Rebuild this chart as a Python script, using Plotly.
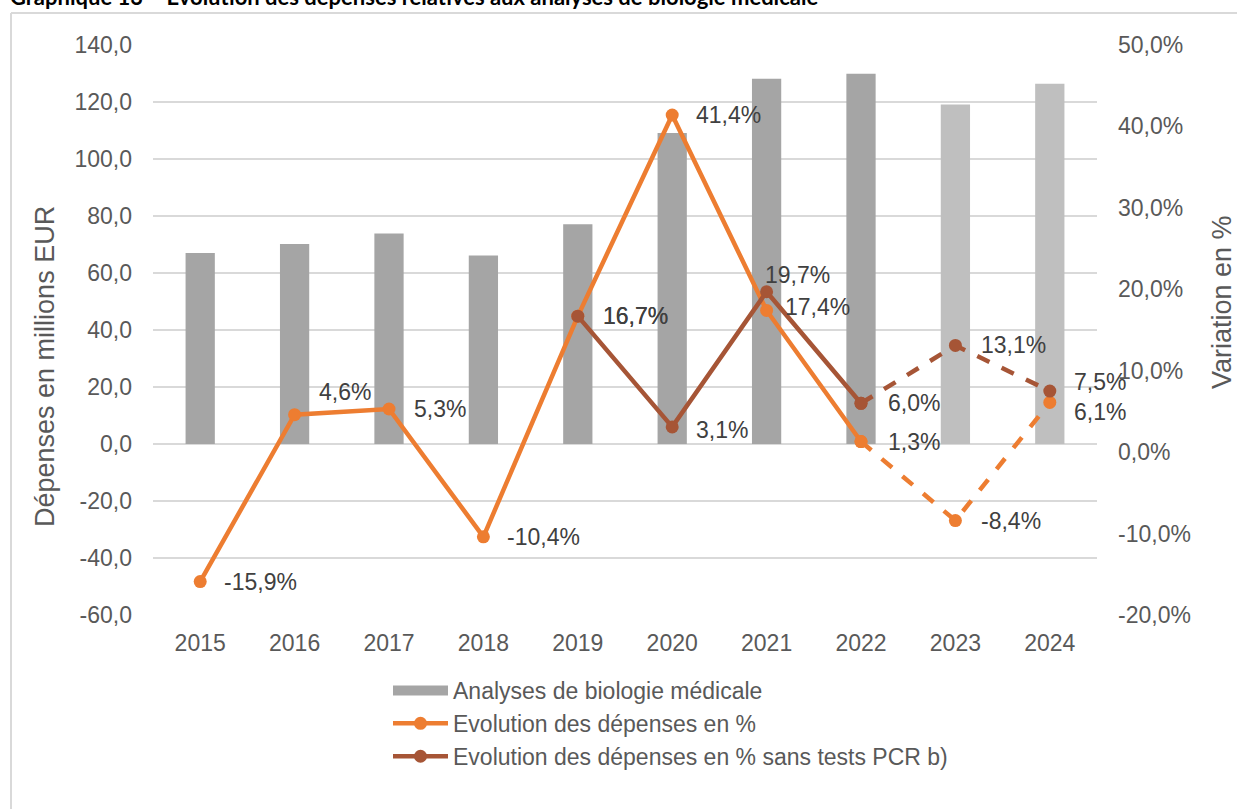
import plotly.graph_objects as go

# données
annees = ["2015", "2016", "2017", "2018", "2019", "2020", "2021", "2022", "2023", "2024"]
depenses = [67.0, 70.2, 73.9, 66.1, 77.1, 109.1, 128.2, 129.9, 119.1, 126.4]
evol = [-15.9, 4.6, 5.3, -10.4, 16.7, 41.4, 17.4, 1.3, -8.4, 6.1]
evol_sans_pcr = [None, None, None, None, 16.7, 3.1, 19.7, 6.0, 13.1, 7.5]
ticks_gauche = [-60, -40, -20, 0, 20, 40, 60, 80, 100, 120, 140]
ticks_droite = [-20, -10, 0, 10, 20, 30, 40, 50]

GRIS = "#A5A5A5"
GRIS_CLAIR = "#BFBFBF"
ORANGE = "#ED7D31"
BRUN = "#A65536"
POLICE = "Liberation Sans, Arial, sans-serif"

# plot area in pixels: x 153..1097, y 45..615
W, H = 1237, 809
L, R, T, B = 153, 1097, 45, 615


def px_x(x):
    return (x - L) / (R - L)


def px_y(y):
    return (B - y) / (B - T)


def fr(v, suffixe=""):
    # french decimal comma, plain hyphen for negatives (like Excel)
    return f"{v:.1f}".replace(".", ",") + suffixe


couleurs_barres = [GRIS] * 8 + [GRIS_CLAIR] * 2

fig = go.Figure()

fig.add_trace(go.Bar(
    x=annees, y=depenses, marker_color=couleurs_barres, marker_line_width=0,
    width=0.31, showlegend=False, hoverinfo="skip",
))
# legend entry for the bars
fig.add_trace(go.Scatter(
    x=[None], y=[None], mode="lines", line=dict(color=GRIS, width=12),
    name="Analyses de biologie médicale",
))

# solid part 2015-2022, dashed part 2022-2024
for serie, couleur, nom in [(evol, ORANGE, "Evolution des dépenses en %"),
                            (evol_sans_pcr, BRUN, "Evolution des dépenses en % sans tests PCR b)")]:
    xs = [a for a, v in zip(annees[:8], serie[:8]) if v is not None]
    ys = [v for v in serie[:8] if v is not None]
    fig.add_trace(go.Scatter(
        x=xs, y=ys, yaxis="y2", mode="lines+markers", name=nom,
        line=dict(color=couleur, width=4.5), marker=dict(size=13, color=couleur),
    ))
    fig.add_trace(go.Scatter(
        x=annees[7:], y=serie[7:], yaxis="y2", mode="lines+markers", showlegend=False,
        line=dict(color=couleur, width=4.5, dash="dash"), marker=dict(size=13, color=couleur),
    ))

# data labels (offsets in px)
decal_evol = [(22, 0), (22, 23), (23, 0), (22, 0), (23, 0), (22, 0), (16, 3), (25, 0), (24, 0), (22, -10)]
decal_pcr = [None, None, None, None, (23, 0), (22, -3), (-4, 17), (25, 0), (24, 0), (22, 9)]
for serie, decal in [(evol, decal_evol), (evol_sans_pcr, decal_pcr)]:
    for i, (v, d) in enumerate(zip(serie, decal)):
        if v is None:
            continue
        fig.add_annotation(
            x=i, y=v, xref="x", yref="y2", text=fr(v, "%"), showarrow=False,
            xanchor="left", yanchor="middle", xshift=d[0], yshift=d[1],
            font=dict(family=POLICE, size=23, color="#404040"),
        )

# axis titles
fig.add_annotation(x=px_x(45), y=px_y(367), xref="paper", yref="paper", text="Dépenses en millions EUR",
                   textangle=-90, showarrow=False, xanchor="center", yanchor="middle",
                   font=dict(family=POLICE, size=27, color="#595959"))
fig.add_annotation(x=px_x(1222), y=px_y(302), xref="paper", yref="paper", text="Variation en %",
                   textangle=-90, showarrow=False, xanchor="center", yanchor="middle",
                   font=dict(family=POLICE, size=27, color="#595959"))

# cut-off heading above the frame
fig.add_annotation(x=px_x(8), y=px_y(-3), xref="paper", yref="paper", xanchor="left", yanchor="middle",
                   text="<b>Graphique 13 – Evolution des dépenses relatives aux analyses de biologie médicale</b>",
                   showarrow=False, font=dict(family="Lato, sans-serif", size=22, color="#000000"))

# frame
fig.add_shape(type="line", xref="paper", yref="paper", x0=px_x(11), x1=px_x(11), y0=px_y(13), y1=px_y(900),
              line=dict(color="#D9D9D9", width=2))
fig.add_shape(type="line", xref="paper", yref="paper", x0=px_x(11), x1=px_x(1300), y0=px_y(13), y1=px_y(13),
              line=dict(color="#D9D9D9", width=2))

fig.update_layout(
    width=W, height=H,
    margin=dict(l=L, r=W - R, t=T, b=H - B),
    plot_bgcolor="white", paper_bgcolor="white",
    separators=", ",
    font=dict(family=POLICE, size=23, color="#595959"),
    xaxis=dict(type="category", range=[-0.5, 9.5], autorange=False, showgrid=False, showline=False,
               ticks="", ticklabelstandoff=12, tickfont=dict(size=23, color="#595959")),
    yaxis=dict(range=[-60, 140], tickvals=ticks_gauche, ticktext=[fr(v) for v in ticks_gauche],
               showgrid=True, gridcolor="#D9D9D9", gridwidth=1.5, zeroline=False, showline=False,
               ticks="", ticklabelstandoff=20, tickfont=dict(size=23, color="#595959")),
    yaxis2=dict(range=[-20, 50], tickvals=ticks_droite, ticktext=[fr(v, "%") for v in ticks_droite],
                overlaying="y", side="right", showgrid=False, zeroline=False, showline=False,
                ticks="", ticklabelstandoff=20, tickfont=dict(size=23, color="#595959")),
    legend=dict(x=px_x(388), y=px_y(669), xanchor="left", yanchor="top", orientation="v",
                font=dict(family=POLICE, size=23, color="#595959"), itemwidth=55, tracegroupgap=0,
                bgcolor="rgba(0,0,0,0)"),
)

fig.write_html("out.html", config={"displayModeBar": False},
               post_script="document.body.style.margin='0px';")
